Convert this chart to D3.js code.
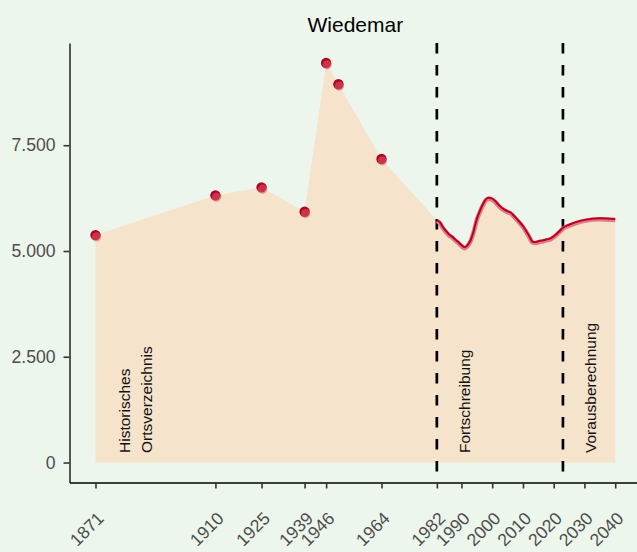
<!DOCTYPE html>
<html>
<head>
<meta charset="utf-8">
<title>Wiedemar</title>
<script src="https://d3js.org/d3.v7.min.js"></script>
<style>
  body { margin: 0; background: #EDF6EC; }
  svg { display: block; font-family: "Liberation Sans", Arial, sans-serif; }
</style>
</head>
<body>
<svg id="chart"></svg>
<script>
// Historisches Ortsverzeichnis (single census points)
var histYears  = [1871, 1910, 1925, 1939, 1946, 1950, 1964];
var histValues = [5376, 6315, 6504, 5928, 9444, 8940, 7174];

// Fortschreibung (yearly)
var fortYears  = [1982, 1983, 1984, 1985, 1986, 1987, 1988, 1989, 1990, 1991,
                  1992, 1993, 1994, 1995, 1996, 1997, 1998, 1999, 2000, 2001,
                  2002, 2003, 2004, 2005, 2006, 2007, 2008, 2009, 2010, 2011,
                  2012, 2013, 2014, 2015, 2016, 2017, 2018, 2019, 2020, 2021,
                  2022];
var fortValues = [5731, 5680, 5560, 5470, 5390, 5340, 5270, 5210, 5140, 5090,
                  5140, 5260, 5480, 5760, 5950, 6110, 6230, 6258, 6235, 6180,
                  6100, 6030, 5980, 5940, 5910, 5840, 5760, 5680, 5590, 5480,
                  5360, 5230, 5210, 5230, 5245, 5260, 5280, 5300, 5350, 5410,
                  5480];

// Vorausberechnung
var progYears  = [2023, 2025, 2028, 2030, 2035, 2040];
var progValues = [5549, 5620, 5700, 5735, 5771, 5754];

var xTickYears  = [1871, 1910, 1925, 1939, 1946, 1964, 1982, 1990, 2000, 2010, 2020, 2030, 2040];
var yTickValues = [0, 2500, 5000, 7500];
var breakYears  = [1982, 2023];
var labelTexts  = [["Historisches", "Ortsverzeichnis"], ["Fortschreibung"], ["Vorausberechnung"]];
var labelYears  = [1884, 1991, 2032];

var vWidth = 637, vHeight = 552;
var margin = {top: 43, left: 69.5, bottom: 69.5};

var de = d3.formatLocale({decimal: ",", thousands: ".", grouping: [3], currency: ["", " €"]});
var fmt = de.format(",");

var hist = histYears.map(function (y, i) { return {year: y, value: histValues[i]}; });
var fort = fortYears.map(function (y, i) { return {year: y, value: fortValues[i]}; });
var prog = progYears.map(function (y, i) { return {year: y, value: progValues[i]}; });
var line = fort.concat(prog);
var all = hist.concat(line);

// ggplot-like 5% expansion
var xMin = d3.min(all, function (d) { return d.year; });
var xMax = d3.max(all, function (d) { return d.year; });
var yMax = d3.max(all, function (d) { return d.value; });
var xPad = (xMax - xMin) * 0.05;

var x = d3.scaleLinear()
    .domain([xMin - xPad, xMax + xPad])
    .range([margin.left, margin.left + 571.7]);
var y = d3.scaleLinear()
    .domain([-yMax * 0.05, yMax * 1.05])
    .range([vHeight - margin.bottom, margin.top]);

var svg = d3.select('#chart')
    .attr('width', vWidth)
    .attr('height', vHeight);

svg.append('rect')
    .attr('width', vWidth).attr('height', vHeight)
    .attr('fill', '#EDF6EC');

// area under everything
var area = d3.area()
    .x(function (d) { return x(d.year); })
    .y0(y(0))
    .y1(function (d) { return y(d.value); });

svg.append('path')
    .datum(all)
    .attr('d', area)
    .attr('fill', '#F6E3CC');

// period separators
svg.selectAll('line.break')
    .data(breakYears)
    .enter().append('line')
    .attr('class', 'break')
    .attr('x1', function (d) { return x(d); })
    .attr('x2', function (d) { return x(d); })
    .attr('y1', margin.top)
    .attr('y2', vHeight - margin.bottom)
    .attr('stroke', '#000')
    .attr('stroke-width', 2.7)
    .attr('stroke-dasharray', '10.5,11.5');

// line for yearly data
var vLine = d3.line()
    .x(function (d) { return x(d.year); })
    .y(function (d) { return y(d.value); })
    .curve(d3.curveMonotoneX);

svg.append('path')
    .datum(line)
    .attr('d', vLine)
    .attr('transform', 'translate(0,1)')
    .attr('fill', 'none')
    .attr('stroke', '#E07A88')
    .attr('stroke-width', 4.5)
    .attr('stroke-linejoin', 'round');

svg.append('path')
    .datum(line)
    .attr('d', vLine)
    .attr('fill', 'none')
    .attr('stroke', '#B8001F')
    .attr('stroke-width', 2)
    .attr('stroke-linejoin', 'round');

// census points
var pts = svg.selectAll('g.pt').data(hist).enter().append('g')
    .attr('class', 'pt')
    .attr('transform', function (d) { return 'translate(' + x(d.year) + ',' + y(d.value) + ')'; });
pts.append('circle').attr('r', 5.2).attr('fill', '#B3001E');
pts.append('circle').attr('r', 4.6).attr('cx', 1).attr('cy', 1.8).attr('fill', '#D9606F').attr('opacity', 0.55);

// annotations
labelTexts.forEach(function (lines, i) {
    var t = svg.append('text')
        .attr('transform', 'translate(' + x(labelYears[i]) + ',453) rotate(-90)')
        .attr('font-size', '15.5px')
        .attr('fill', '#111');
    var off = -(lines.length - 1) / 2 * 1.4;
    lines.forEach(function (s, j) {
        t.append('tspan')
            .attr('x', 0)
            .attr('dy', (j === 0 ? off + 0.35 : 1.4) + 'em')
            .text(s);
    });
});

// axes
var yAxis = d3.axisLeft(y).tickValues(yTickValues).tickFormat(fmt).tickSize(6).tickSizeOuter(0);
var gy = svg.append('g')
    .attr('transform', 'translate(' + margin.left + ',0)')
    .call(yAxis);
gy.select('.domain').attr('stroke', '#000').attr('stroke-width', 1.3);
gy.selectAll('.tick line').attr('stroke', '#333').attr('stroke-width', 1.6);
gy.selectAll('.tick text')
    .attr('x', -14)
    .attr('fill', '#4D4D4D')
    .attr('font-size', '17.6px')
    .attr('font-family', '"Liberation Sans", Arial, sans-serif');

var xAxis = d3.axisBottom(x).tickValues(xTickYears).tickFormat(d3.format('d')).tickSize(6).tickSizeOuter(0);
var gx = svg.append('g')
    .attr('transform', 'translate(0,' + (vHeight - margin.bottom) + ')')
    .call(xAxis);
gx.select('.domain').attr('stroke', '#000').attr('stroke-width', 1.3);
gx.selectAll('.tick line').attr('stroke', '#333').attr('stroke-width', 1.6);
gx.selectAll('.tick text')
    .attr('fill', '#4D4D4D')
    .attr('font-size', '17.6px')
    .attr('font-family', '"Liberation Sans", Arial, sans-serif')
    .attr('text-anchor', 'end')
    .attr('x', null).attr('y', null).attr('dy', null)
    .attr('transform', 'translate(9,37) rotate(-45)');

// title
svg.append('text')
    .attr('x', (x.range()[0] + x.range()[1]) / 2)
    .attr('y', 32)
    .attr('text-anchor', 'middle')
    .attr('font-size', '21px')
    .attr('fill', '#000')
    .text('Wiedemar');
</script>
</body>
</html>
